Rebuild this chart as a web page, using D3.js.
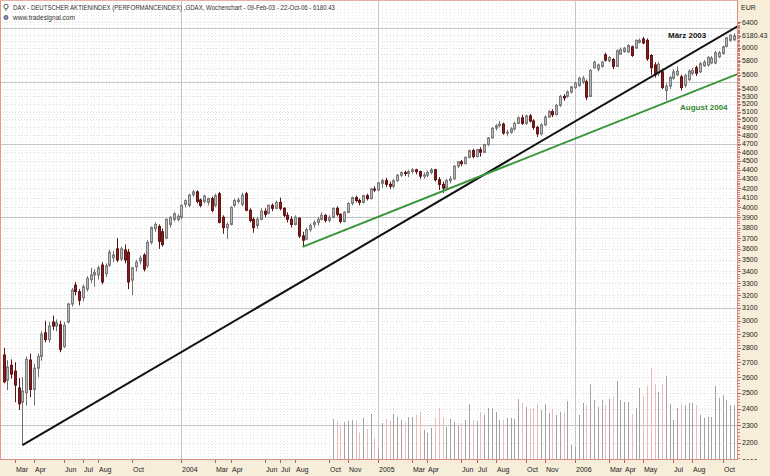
<!DOCTYPE html>
<html><head><meta charset="utf-8">
<script src="https://cdn.jsdelivr.net/npm/d3@7"></script>
<style>
html,body{margin:0;padding:0;background:#fff;}
svg{display:block;font-family:"Liberation Sans",Arial,sans-serif;}
</style></head><body>
<svg id="c" width="770" height="476"></svg>
<script>
// ---------- DATA ----------
const firstWeek = "2003-02-09";   // date of first weekly bar (weeks ending Sunday)
const titleText = "DAX  - DEUTSCHER AKTIENINDEX (PERFORMANCEINDEX) ,GDAX, Wochenchart - 09-Feb-03 - 22-Oct-06 - 6180.43";
const subTitle = "www.tradesignal.com";
const lastPrice = 6180.43;

const opens = [2750,2580,2680,2640,2530,2440,2500,2715,2520,2660,
2740,2910,2860,2990,2960,2970,2810,2990,3130,3284,
3230,3180,3250,3330,3370,3370,3455,3380,3455,3520,
3600,3510,3590,3570,3326,3440,3490,3544,3450,3660,
3790,3810,3760,3700,3830,3880,3880,3900,4030,4020,
4130,4160,4075,4060,4050,4090,4020,4140,3900,3800,
3830,4020,4060,4030,4140,3970,3880,3820,3880,3960,
3940,4020,3990,4050,3990,3920,3880,3830,3890,3720,
3690,3780,3830,3850,3880,3920,3870,3900,3990,3930,
3860,3950,4040,4100,4070,4050,4120,4090,4190,4180,
4250,4280,4240,4220,4280,4340,4370,4360,4380,4400,
4380,4330,4340,4370,4400,4290,4240,4200,4280,4300,
4440,4490,4470,4540,4620,4550,4630,4600,4690,4770,
4890,4920,4940,4830,4840,4880,4950,5020,4950,5044,
4980,4900,4820,4930,5030,5100,5060,5180,5300,5300,
5360,5420,5450,5500,5500,5300,5700,5680,5720,5890,
5800,5820,5720,5900,5940,5930,6010,5990,6080,6130,
6110,5880,5740,5620,5640,5380,5440,5550,5600,5570,
5450,5530,5620,5700,5640,5730,5740,5770,5770,5860,
5910,6020,6110,6120];

const highs = [2800,2715,2720,2700,2594,2600,2740,2760,2690,2760,
2920,3000,2990,3040,3010,3000,2990,3140,3260,3310,
3250,3290,3360,3430,3420,3450,3480,3470,3590,3580,
3700,3620,3640,3600,3440,3500,3540,3560,3680,3810,
3850,3830,3790,3890,3910,3950,3930,4030,4080,4140,
4180,4175,4090,4130,4100,4110,4140,4160,3920,3850,
4010,4090,4100,4150,4160,3990,3900,3900,3990,3990,
4030,4040,4070,4100,4000,3950,3910,3920,3900,3760,
3800,3840,3870,3900,3950,3930,3920,4000,4010,3940,
3960,4050,4110,4120,4090,4130,4140,4200,4220,4260,
4300,4310,4270,4300,4350,4380,4390,4400,4420,4410,
4390,4370,4390,4420,4410,4320,4270,4300,4330,4450,
4500,4510,4550,4630,4640,4640,4660,4700,4780,4900,
4940,4980,4960,4870,4900,4970,5040,5060,5060,5070,
5000,4920,4950,5050,5120,5130,5200,5320,5330,5380,
5440,5500,5570,5580,5530,5680,5800,5760,5800,5920,
5870,5840,5970,6000,6010,6050,6030,6120,6140,6162,
6140,5900,5780,5780,5690,5480,5580,5680,5720,5600,
5610,5680,5700,5730,5780,5810,5870,5870,5950,5950,
6030,6160,6200,6220];

const lows = [2560,2516,2590,2440,2392,2188,2420,2470,2420,2600,
2710,2840,2840,2930,2920,2770,2800,2980,3110,3200,
3120,3150,3230,3300,3270,3330,3290,3350,3440,3480,
3480,3490,3470,3250,3200,3400,3460,3400,3430,3640,
3760,3600,3620,3690,3800,3860,3860,3880,4000,4000,
4110,4040,4000,4040,4020,3950,4000,3840,3740,3690,
3820,4000,4040,4010,3960,3850,3750,3790,3870,3900,
3930,3960,3980,3970,3900,3850,3800,3820,3700,3618,
3680,3760,3800,3820,3870,3850,3850,3890,3910,3840,
3850,3940,4020,4050,4020,4040,4070,4080,4160,4170,
4200,4210,4190,4200,4270,4320,4330,4320,4360,4350,
4300,4300,4320,4350,4270,4180,4150,4190,4250,4290,
4420,4440,4460,4530,4530,4540,4550,4590,4670,4760,
4860,4900,4810,4790,4820,4860,4940,4930,4930,4960,
4870,4780,4800,4920,5020,5030,5050,5160,5240,5280,
5340,5400,5430,5470,5250,5290,5690,5650,5700,5790,
5780,5680,5710,5890,5920,5920,5860,5980,6060,6050,
5800,5600,5560,5580,5400,5243,5400,5530,5580,5380,
5420,5510,5590,5580,5620,5710,5720,5750,5750,5840,
5890,6000,6090,6100];

const closes = [2570,2668,2620,2548,2430,2510,2720,2520,2660,2740,
2900,2860,2960,2960,2985,2790,2965,3130,3243,3230,
3160,3270,3340,3370,3390,3430,3310,3450,3570,3545,
3500,3600,3500,3310,3430,3480,3515,3420,3660,3800,
3830,3670,3640,3880,3900,3935,3910,4020,4070,4126,
4160,4060,4020,4115,4090,3970,4120,3850,3800,3830,
4000,4070,4075,4126,3970,3870,3800,3880,3960,3930,
4020,3990,4050,3990,3920,3880,3830,3900,3720,3680,
3780,3820,3850,3880,3920,3870,3900,3990,3930,3860,
3950,4040,4100,4070,4050,4120,4090,4190,4180,4256,
4280,4240,4220,4280,4340,4370,4360,4380,4400,4380,
4330,4340,4370,4400,4290,4240,4200,4280,4300,4440,
4490,4470,4540,4620,4550,4630,4600,4690,4770,4890,
4920,4940,4830,4840,4880,4950,5020,4950,5044,4980,
4900,4820,4930,5030,5100,5060,5180,5300,5280,5360,
5430,5480,5550,5550,5290,5660,5780,5740,5780,5810,
5850,5720,5950,5970,5990,6030,5880,6110,6110,6070,
5830,5700,5600,5750,5420,5440,5560,5640,5650,5420,
5590,5650,5660,5620,5760,5780,5850,5840,5920,5920,
6010,6150,6190,6180.43];

// volume (relative units), available from bar index volStart on
const volStart = 87;
const volumes = [40,38,34,37,38,39,38,26,41,30,
45,21,10,36,40,38,45,42,39,37,
42,42,44,47,29,26,31,41,51,41,
32,40,37,34,36,39,55,39,38,47,
44,51,51,47,39,39,41,41,40,60,
56,52,50,51,55,49,55,46,50,44,
47,46,58,14,12,44,56,54,75,59,
52,59,54,60,62,78,59,57,57,45,
51,71,63,73,91,75,67,75,83,55,
39,51,55,54,56,56,54,44,41,42,
42,73,61,64,59,54,54];

// trend lines: two anchor points each [bar index, price]
const lineMaerz = [[5, 2188], [170, 5535]];
const lineAugust = [[79, 3618], [170, 5120]];

// axis labels
const yLabelValues = [2200,2300,2400,2500,2600,2700,2800,2900,3000,3100,3200,3300,3400,3500,3600,3700,3800,3900,4000,4100,4200,4300,4400,4500,4600,4700,4800,4900,5000,5100,5200,5300,5400,5600,5800,6000,6400];
const yMajorGrid = [2300,3100,3900,4700,5500,6300];
const xTickMonths = ["2003-03","2003-04","2003-06","2003-07","2003-08","2003-10","2004-01","2004-03","2004-04","2004-06","2004-07","2004-08","2004-10","2004-11","2005-01","2005-03","2005-04","2005-06","2005-07","2005-08","2005-10","2005-11","2006-01","2006-03","2006-04","2006-05","2006-07","2006-08","2006-10"];

// ---------- DRAW ----------
const W = 770, H = 476;
const PR = 737, PB = 459;  // plot right / bottom edges
const svg = d3.select("#c");
const parse = d3.timeParse("%Y-%m-%d");
const start = parse(firstWeek);
const n = opens.length;
const dates = d3.range(n).map(i => d3.timeDay.offset(start, 7 * i));

const x = d3.scaleLinear().domain([0, n - 1]).range([3.5, 734]);
const y = d3.scaleLog().domain([2200, 6000]).range([443, 47.5]);
const vy = d3.scaleLinear().domain([0, 100]).range([PB, PB - 100]);
const px = i => Math.round(x(i));

// backgrounds
svg.append("rect").attr("width", W).attr("height", H).attr("fill", "#f6eed8");
svg.append("rect").attr("x", 0).attr("y", 0).attr("width", PR).attr("height", PB).attr("fill", "#ffffff");

const defs = svg.append("defs");
defs.append("clipPath").attr("id", "pc").append("rect").attr("x", 0).attr("y", 0).attr("width", PR).attr("height", PB);
defs.append("clipPath").attr("id", "ac").append("rect").attr("x", PR).attr("y", 0).attr("width", W - PR).attr("height", 460);

const g = svg.append("g").attr("clip-path", "url(#pc)");

// minor grid
const gridVals = d3.range(2100, 6500, 100);
g.append("g").selectAll("line").data(gridVals).join("line")
  .attr("x1", 0).attr("x2", PR)
  .attr("y1", d => Math.round(y(d)) + 0.5).attr("y2", d => Math.round(y(d)) + 0.5)
  .attr("stroke", "#dcdcdc").attr("stroke-dasharray", "1,2");
g.append("g").selectAll("line").data(d3.range(0, n + 1)).join("line")
  .attr("x1", i => px(i) + 0.5).attr("x2", i => px(i) + 0.5)
  .attr("y1", 0).attr("y2", PB)
  .attr("stroke", "#e6e6e6").attr("stroke-dasharray", "1,2");

// major grid
g.append("g").selectAll("line").data(yMajorGrid).join("line")
  .attr("x1", 0).attr("x2", PR)
  .attr("y1", d => Math.round(y(d)) + 0.5).attr("y2", d => Math.round(y(d)) + 0.5)
  .attr("stroke", "#c6c6c6");
const yearStarts = d3.range(1, n).filter(i => dates[i].getFullYear() !== dates[i - 1].getFullYear());
g.append("g").selectAll("line").data(yearStarts).join("line")
  .attr("x1", i => px(i) + 0.5).attr("x2", i => px(i) + 0.5)
  .attr("y1", 0).attr("y2", PB)
  .attr("stroke", "#c6c6c6");

// volume
const up = i => closes[i] >= opens[i];
g.append("g").selectAll("line").data(volumes.map((v, k) => ({ i: k + volStart, v }))).join("line")
  .attr("x1", d => px(d.i) + 0.5).attr("x2", d => px(d.i) + 0.5)
  .attr("y1", vy(0)).attr("y2", d => vy(d.v))
  .attr("stroke", d => up(d.i) ? "#a2a2a2" : "#ebb9b9").attr("stroke-width", 1);

// candles
const cg = g.append("g");
d3.range(n).forEach(i => {
  const cx = px(i) + 0.5;
  const u = up(i);
  cg.append("line").attr("x1", cx).attr("x2", cx)
    .attr("y1", y(highs[i])).attr("y2", y(lows[i]))
    .attr("stroke", u ? "#6f6f6f" : "#5e1414").attr("stroke-width", 1);
  const top = y(Math.max(opens[i], closes[i]));
  const h = Math.max(1, Math.abs(y(opens[i]) - y(closes[i])));
  cg.append("rect").attr("x", cx - 1).attr("y", top).attr("width", 2).attr("height", h)
    .attr("fill", u ? "#b8b8b8" : "#7f1f1f")
    .attr("stroke", u ? "#7c7c7c" : "#641616").attr("stroke-width", 1);
});

// trend lines, extended to the right edge
function trend(pts, color) {
  const [a, b] = pts;
  const x1 = x(a[0]), y1 = y(a[1]), x2 = x(b[0]), y2 = y(b[1]);
  const s = (y2 - y1) / (x2 - x1);
  const xe = PR + 2;
  g.append("line").attr("x1", x1).attr("y1", y1).attr("x2", xe).attr("y2", y1 + s * (xe - x1))
    .attr("stroke", color).attr("stroke-width", 2);
}
trend(lineMaerz, "#111111");
trend(lineAugust, "#3a963a");

// annotations
svg.append("text").attr("x", 668).attr("y", 38).attr("font-size", 8).attr("font-weight", "bold")
  .attr("fill", "#111").text("März 2003");
svg.append("text").attr("x", 680).attr("y", 110).attr("font-size", 8).attr("font-weight", "bold")
  .attr("fill", "#2f8a2f").text("August 2004");

// frame / axes lines
svg.append("line").attr("x1", 0.5).attr("x2", 0.5).attr("y1", 0).attr("y2", PB).attr("stroke", "#e39a86");
svg.append("line").attr("x1", 0).attr("x2", PR).attr("y1", 0.5).attr("y2", 0.5).attr("stroke", "#e8b0a0");
svg.append("line").attr("x1", PR + 0.5).attr("x2", PR + 0.5).attr("y1", 0).attr("y2", PB + 1).attr("stroke", "#d98a8a");
svg.append("line").attr("x1", 0).attr("x2", PR + 1).attr("y1", PB + 0.5).attr("y2", PB + 0.5).attr("stroke", "#d98a8a");

// right axis
const ax = svg.append("g").attr("clip-path", "url(#ac)");
ax.append("g").selectAll("line").data(d3.range(2100, 6420, 20)).join("line")
  .attr("x1", PR + 1).attr("x2", PR + 3)
  .attr("y1", d => Math.round(y(d)) + 0.5).attr("y2", d => Math.round(y(d)) + 0.5)
  .attr("stroke", "#c98080");
const labs = yLabelValues.concat([2100]);
ax.append("g").selectAll("line").data(labs.concat([lastPrice])).join("line")
  .attr("x1", PR + 1).attr("x2", PR + 4)
  .attr("y1", d => Math.round(y(d)) + 0.5).attr("y2", d => Math.round(y(d)) + 0.5)
  .attr("stroke", "#b86060");
ax.append("g").selectAll("text").data(labs).join("text")
  .attr("x", 742).attr("y", d => y(d)).attr("dy", "0.35em")
  .attr("font-size", 7).attr("fill", "#222").text(d => d);
svg.append("text").attr("x", 742).attr("y", y(lastPrice)).attr("dy", "0.35em")
  .attr("font-size", 7).attr("fill", "#222").text(lastPrice.toFixed(2));
svg.append("text").attr("x", 741).attr("y", 8).attr("dy", "0.35em")
  .attr("font-size", 7).attr("fill", "#222").text("EUR");

// bottom axis
const fmtMon = d3.timeFormat("%b");
const xt = xTickMonths.map(m => {
  const d = d3.timeParse("%Y-%m")(m);
  const i = dates.findIndex(t => t >= d);
  return { i, label: d.getMonth() === 0 ? String(d.getFullYear()) : fmtMon(d) };
});
svg.append("g").selectAll("line").data(xt).join("line")
  .attr("x1", d => px(d.i) + 0.5).attr("x2", d => px(d.i) + 0.5)
  .attr("y1", PB + 1).attr("y2", PB + 4).attr("stroke", "#b86060");
svg.append("g").selectAll("text").data(xt).join("text")
  .attr("x", d => px(d.i) + 1).attr("y", 472)
  .attr("font-size", 7).attr("fill", "#222").text(d => d.label);

// title
svg.append("circle").attr("cx", 6).attr("cy", 6.5).attr("r", 2.2).attr("fill", "none").attr("stroke", "#666");
svg.append("line").attr("x1", 6).attr("x2", 6).attr("y1", 8.7).attr("y2", 11).attr("stroke", "#666");
svg.append("text").attr("x", 13).attr("y", 10).attr("font-size", 8).attr("fill", "#333")
  .attr("textLength", 322).attr("lengthAdjust", "spacingAndGlyphs").text(titleText);
svg.append("circle").attr("cx", 6).attr("cy", 17.5).attr("r", 2).attr("fill", "#8aa0c0").attr("stroke", "#556");
svg.append("text").attr("x", 13).attr("y", 20).attr("font-size", 7.5).attr("fill", "#333")
  .attr("textLength", 62).attr("lengthAdjust", "spacingAndGlyphs").text(subTitle);
</script>
</body></html>
